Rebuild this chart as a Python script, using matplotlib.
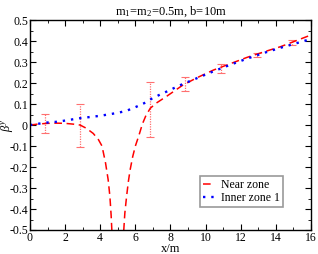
import numpy as np
import matplotlib
matplotlib.use("Agg")
import matplotlib.pyplot as plt
from matplotlib.ticker import MultipleLocator

plt.rcParams['font.family'] = ['Liberation Serif', 'DejaVu Serif']
plt.rcParams['mathtext.fontset'] = 'custom'
plt.rcParams['mathtext.rm'] = 'Liberation Serif'
plt.rcParams['mathtext.it'] = 'Liberation Serif:italic'

near_x = [0, 0.5, 1.0, 1.5, 2.0, 2.5, 2.85, 3.2, 3.6, 3.9, 4.1, 4.3, 4.45, 4.55, 4.62, 4.66, 4.72,
          np.nan,
          5.28, 5.34, 5.4, 5.5, 5.6, 5.7, 5.85, 6.0, 6.2, 6.4, 6.6, 6.85, 7.2, 7.8, 8.7, 9.5,
          10.45, 11.4, 12.35, 13.3, 14.26, 15.1, 16.0]
near_y = [0.0, 0.005, 0.008, 0.009, 0.008, 0.004, 0.0, -0.015, -0.04, -0.07, -0.1, -0.18, -0.26,
          -0.34, -0.43, -0.5, -0.65,
          np.nan,
          -0.65, -0.5, -0.42, -0.34, -0.27, -0.214, -0.15, -0.1, -0.05, 0.005, 0.045, 0.08, 0.105,
          0.138, 0.19, 0.225, 0.262, 0.292, 0.322, 0.348, 0.373, 0.4, 0.429]

inner_x = [0, 0.4, 0.85, 1.6, 2.8, 4.0, 5.0, 5.5, 6.0, 6.5, 6.9, 7.4, 7.8, 8.5, 9.7, 10.45,
           11.4, 12.35, 13.3, 14.26, 15.1, 16.0]
inner_y = [0.0, 0.005, 0.011, 0.016, 0.032, 0.044, 0.058, 0.068, 0.085, 0.104, 0.124, 0.145,
           0.16, 0.188, 0.23, 0.256, 0.287, 0.316, 0.343, 0.368, 0.388, 0.41]

err_x = [0.85, 2.85, 6.85, 8.85, 10.85, 12.9, 14.9]
err_y = [0.008, -0.003, 0.075, 0.196, 0.27, 0.333, 0.393]
err_h = [0.044, 0.103, 0.131, 0.034, 0.02, 0.011, 0.012]

yticklabels = ['-0.5', '-0.4', '-0.3', '-0.2', '-0.1', '0', '0.1', '0.2', '0.3', '0.4', '0.5']

fig = plt.figure(figsize=(3.18, 2.54), dpi=100)
ax = fig.add_axes([0.0943, 0.0945, 0.8837, 0.8265])

eb = ax.errorbar(err_x, err_y, yerr=err_h, fmt='none', ecolor='#ff7070', elinewidth=0.9,
                 capsize=3, capthick=0.8)
for lc in eb[2]:
    lc.set_linestyle((0, (1, 1)))

ax.plot(near_x, near_y, color='red', lw=1.1, dashes=(5, 3), label='Near zone')
ax.plot(inner_x, inner_y, color='blue', lw=1.7, linestyle=(0, (1, 2.5)), label='Inner zone 1')

ax.set_xlim(0, 16)
ax.set_ylim(-0.5, 0.5)
ax.xaxis.set_major_locator(MultipleLocator(2))
ax.xaxis.set_minor_locator(MultipleLocator(1))
ax.yaxis.set_minor_locator(MultipleLocator(0.05))
ax.set_yticks(np.round(np.arange(-0.5, 0.51, 0.1), 1))
ax.set_yticklabels(yticklabels)
ax.tick_params(which='both', direction='in', top=True, right=True, labelsize=8.5, pad=1.5)
ax.tick_params(which='major', length=4, width=0.8)
ax.tick_params(which='minor', length=2, width=0.6)
for s in ax.spines.values():
    s.set_linewidth(1.0)

ax.set_xlabel('x/m', fontsize=9)
ax.xaxis.set_label_coords(0.5, -0.062)
ax.set_ylabel(r'$\beta^y$', fontsize=9)
ax.yaxis.set_label_coords(-0.055, 0.5)
ax.set_title(r'm$_1$=m$_2$=0.5m, b=10m', fontsize=9, pad=4)

leg = ax.legend(loc='lower right', bbox_to_anchor=(0.9, 0.11), fontsize=8.5, frameon=True,
                fancybox=False, edgecolor='#808080', handlelength=0.9, handletextpad=0.6,
                borderpad=0.25, labelspacing=0.1, borderaxespad=0)
leg.get_frame().set_linewidth(1.2)

fig.savefig('out.png', dpi=100)
